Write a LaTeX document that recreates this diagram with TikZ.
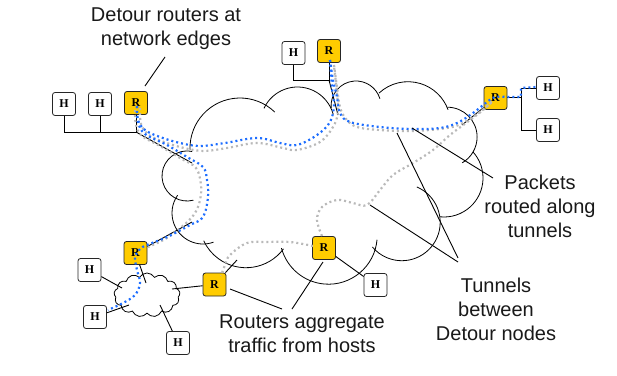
\documentclass[tikz,border=0pt]{standalone}
\usepackage{fontspec}
\setmainfont{Liberation Sans}
\newfontfamily\boxfont{Liberation Serif}
\usetikzlibrary{shapes.symbols}
\definecolor{routeryellow}{RGB}{255,204,0}
\definecolor{tunnelblue}{RGB}{30,110,255}
\definecolor{tunnelgray}{RGB}{185,185,185}
\begin{document}
\begin{tikzpicture}[x=1pt, y=1pt, yscale=-1,
  host/.style={draw=black!85, fill=white, rounded corners=2.5pt, minimum size=23pt,
    inner sep=0pt, line width=0.8pt, font=\boxfont\bfseries\fontsize{12}{12}\selectfont},
  router/.style={host, fill=routeryellow},
  wire/.style={line width=0.9pt, draw=black},
  lobe/.style={line width=0.8pt, draw=black},
  bluetunnel/.style={draw=tunnelblue, line width=2.2pt, dash pattern=on 2pt off 3pt},
  graytunnel/.style={draw=tunnelgray, line width=2.2pt, dash pattern=on 2pt off 3pt},
  callout/.style={font=\fontsize{20}{24}\selectfont, align=center, text=black!90, inner sep=0pt}]
\useasboundingbox (0,0) rectangle (617,375);

% backbone cloud, one arc per lobe: centre, radius, start and end angle
\foreach \cx/\cy/\r/\a/\b in {
  240/148/50/178/314,
  297.5/124/37/205/345,
  356/106/25/175/343,
  408/124.3/42.6/227/340,
  447.3/137/29.8/270/420,
  444/178/39/318/456,
  401.8/222.3/38.4/293/500,
  328.5/235.5/48.7/5/165,
  246/221/46.7/36.6/155,
  203/213/31/70/215,
  187/176/25/75/282}
  \draw[lobe] (\cx,\cy) ++(\a:\r) arc (\a:\b:\r);

% small access network
\node[cloud, draw, cloud puffs=13, cloud puff arc=120, aspect=1.5, minimum width=66pt,
  minimum height=44pt, inner sep=0pt, line width=0.8pt] (subnet) at (147,295) {};

% hosts and routers
\node[host] (h1) at (64,104) {H};
\node[host] (h2) at (100,104) {H};
\node[router] (r1) at (136,103) {R};
\node[host] (h3) at (293.5,53) {H};
\node[router] (r2) at (329,51) {R};
\node[router] (r3) at (495.5,98) {R};
\node[host] (h4) at (548,88) {H};
\node[host] (h5) at (548,130) {H};
\node[router] (r4) at (135.5,253) {R};
\node[host] (h6) at (89.5,270) {H};
\node[host] (h7) at (95,317) {H};
\node[host] (h8) at (178,343) {H};
\node[router] (r5) at (214.5,284.5) {R};
\node[router] (r6) at (324,248) {R};
\node[host] (h9) at (375.5,285) {H};

% wiring
\coordinate (r1bus) at (136,132);
\coordinate (r1in) at (192,163);
\draw[wire] (h1.south) |- (r1bus) -- (r1.south);
\draw[wire] (h2.south) -- (h2.south |- r1bus);
\draw[wire] (r1bus) -- (r1in);

\coordinate (r2bus) at (329,80);
\coordinate (r2in) at (338,115);
\draw[wire] (h3.south) |- (r2bus) -- (r2.south);
\draw[wire] (r2bus) -- (r2in);

\coordinate (r3fork) at (521,97);
\coordinate (r3in) at (462,125);
\draw[wire] (r3.east |- r3fork) -- (r3fork);
\draw[wire] (h4.west) -| (h5.west -| r3fork) -- (h5.west);
\draw[wire] (r3) -- (r3in);

\coordinate (r4in) at (192,222);
\coordinate (r4sub) at (146,283);
\draw[wire] (r4) -- (r4in);
\draw[wire] (r4) -- (r4sub);
\coordinate (h6sub) at (122,288);
\coordinate (h7sub) at (129,305);
\coordinate (h8sub) at (160,305);
\draw[wire] (h6) -- (h6sub);
\draw[wire] (h7) -- (h7sub);
\draw[wire] (h8) -- (h8sub);

\coordinate (r5sub) at (172,289);
\coordinate (r5in) at (237,260);
\draw[wire] (r5) -- (r5sub);
\draw[wire] (r5) -- (r5in);
\draw[wire] (r6) -- (h9);

% tunnels between Detour nodes
\draw[graytunnel] plot[smooth, tension=0.6] coordinates {(140,108) (141,124) (149,135) (164,142)
  (184,148) (204,151) (227,148) (257,143) (283,148) (297,150) (320,142) (333,127) (338,112)
  (337,93) (334,66)};
\draw[graytunnel] plot[smooth, tension=0.6] coordinates {(135,110) (136,125) (142,136) (160,146)
  (180,158) (196,168) (201,185) (200,200) (195,213) (185,224) (167,238) (148,247)};
\draw[graytunnel] plot[smooth, tension=0.6] coordinates {(334,65) (337,87) (340,107) (346,119)
  (357,127) (380,130) (413,131) (447,128) (463,123) (480,112) (492,102)};
\draw[graytunnel] plot[smooth, tension=0.6] coordinates {(322,236) (317,220) (322,207) (337,200)
  (353,203) (367,205) (380,190) (393,175) (413,163) (433,150) (450,135) (470,120) (483,110) (492,101)};
\draw[graytunnel] plot[smooth, tension=0.6] coordinates {(313,246) (290,242) (267,242) (247,243)
  (230,255) (225,265) (221,276)};

\draw[bluetunnel] plot[smooth, tension=0.6] coordinates {(137,106) (138,120) (145,130) (160,137)
  (180,143) (200,146) (225,143) (257,138) (280,143) (297,145) (317,135) (330,122) (334,105)
  (332,88) (330,60)};
\draw[bluetunnel] plot[smooth, tension=0.6] coordinates {(137,106) (138,122) (145,134) (167,145)
  (187,157) (203,167) (207,180) (208,197) (203,217) (190,225) (167,237) (147,245) (140,249)
  (135,257) (137,270) (140,283) (135,295) (123,303) (108,310)};
\draw[bluetunnel] plot[smooth, tension=0.6] coordinates {(330,60) (333,80) (337,97) (340,113)
  (350,122) (380,127) (413,129) (440,128) (457,123) (473,113) (487,102) (495,97) (507,97)}
  -- (r3fork) -- (521,88) -- (536,87);

% callouts
\node[callout] (lbldetour) at (166,29) {Detour routers at\\network edges};
\node[callout] (lblpackets) at (540,206) {Packets\\routed along\\tunnels};
\node[callout] (lbltunnels) at (496,309) {Tunnels\\between\\Detour nodes};
\node[callout] (lblrouters) at (302,334) {Routers aggregate\\traffic from hosts};

\coordinate (pd1) at (165,57);  \coordinate (pd2) at (145,86);
\draw[wire] (pd1) -- (pd2);
\coordinate (pp1) at (493,178); \coordinate (pp2) at (412,128);
\draw[wire] (pp1) -- (pp2);
\coordinate (pt1) at (458,258); \coordinate (pt2) at (397,133);
\coordinate (pt3) at (458,262); \coordinate (pt4) at (370,205);
\draw[wire] (pt1) -- (pt2);
\draw[wire] (pt3) -- (pt4);
\coordinate (pr1) at (282,309); \coordinate (pr2) at (230,289);
\coordinate (pr3) at (292,309); \coordinate (pr4) at (323,262);
\draw[wire] (pr1) -- (pr2);
\draw[wire] (pr3) -- (pr4);
\end{tikzpicture}
\end{document}
